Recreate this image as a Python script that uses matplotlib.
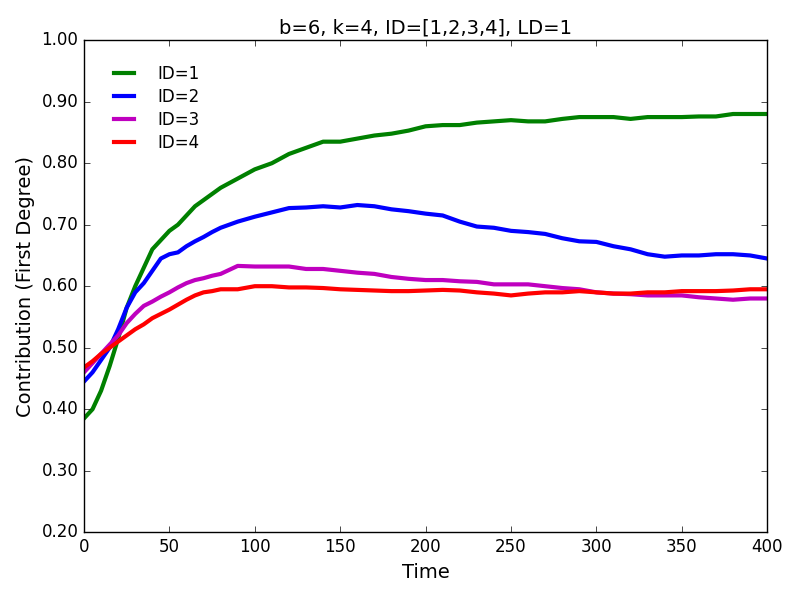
import numpy as np
import matplotlib
matplotlib.use('Agg')
import matplotlib.pyplot as plt
from matplotlib.ticker import FormatStrFormatter

plt.style.use('classic')

# time steps
time = [0, 5, 10, 15, 20, 25, 30, 35, 40, 45, 50, 55, 60, 65, 70, 75, 80,
        90, 100, 110, 120, 130, 140, 150, 160, 170, 180, 190, 200, 210, 220,
        230, 240, 250, 260, 270, 280, 290, 300, 310, 320, 330, 340, 350, 360,
        370, 380, 390, 400]

id1 = [0.385, 0.40, 0.43, 0.47, 0.515, 0.565, 0.60, 0.63, 0.66, 0.675, 0.69,
       0.70, 0.715, 0.73, 0.74, 0.75, 0.76,
       0.775, 0.79, 0.80, 0.815, 0.825, 0.835, 0.835, 0.84, 0.845, 0.848,
       0.853, 0.86, 0.862, 0.862, 0.866, 0.868, 0.87, 0.868, 0.868, 0.872,
       0.875, 0.875, 0.875, 0.872, 0.875, 0.875, 0.875, 0.876, 0.876, 0.88,
       0.88, 0.88]
id2 = [0.445, 0.46, 0.48, 0.50, 0.53, 0.565, 0.59, 0.605, 0.625, 0.645, 0.652,
       0.655, 0.665, 0.673, 0.68, 0.688, 0.695,
       0.705, 0.713, 0.72, 0.727, 0.728, 0.73, 0.728, 0.732, 0.73, 0.725,
       0.722, 0.718, 0.715, 0.705, 0.697, 0.695, 0.69, 0.688, 0.685, 0.678,
       0.673, 0.672, 0.665, 0.66, 0.652, 0.648, 0.65, 0.65, 0.652, 0.652,
       0.65, 0.645]
id3 = [0.46, 0.475, 0.49, 0.505, 0.52, 0.54, 0.555, 0.568, 0.575, 0.583, 0.59,
       0.598, 0.605, 0.61, 0.613, 0.617, 0.62,
       0.633, 0.632, 0.632, 0.632, 0.628, 0.628, 0.625, 0.622, 0.62, 0.615,
       0.612, 0.61, 0.61, 0.608, 0.607, 0.603, 0.603, 0.603, 0.6, 0.597,
       0.595, 0.59, 0.588, 0.587, 0.585, 0.585, 0.585, 0.582, 0.58, 0.578,
       0.58, 0.58]
id4 = [0.468, 0.478, 0.49, 0.50, 0.51, 0.52, 0.53, 0.538, 0.548, 0.555, 0.562,
       0.57, 0.578, 0.585, 0.59, 0.592, 0.595,
       0.595, 0.60, 0.60, 0.598, 0.598, 0.597, 0.595, 0.594, 0.593, 0.592,
       0.592, 0.593, 0.594, 0.593, 0.59, 0.588, 0.585, 0.588, 0.59, 0.59,
       0.592, 0.59, 0.588, 0.588, 0.59, 0.59, 0.592, 0.592, 0.592, 0.593,
       0.595, 0.595]

labels = ['ID=1', 'ID=2', 'ID=3', 'ID=4']
colors = ['g', 'b', 'm', 'r']

fig = plt.figure(figsize=(8, 6), dpi=100)
ax = fig.add_subplot(111)
fig.subplots_adjust(left=0.105, right=0.959, bottom=0.113, top=0.933)

for ys, lab, c in zip([id1, id2, id3, id4], labels, colors):
    ax.plot(time, ys, color=c, lw=3, label=lab)

ax.set_xlim(0, 400)
ax.set_ylim(0.2, 1.0)
ax.yaxis.set_major_formatter(FormatStrFormatter('%.2f'))
ax.set_xlabel('Time', fontsize=14)
ax.set_ylabel('Contribution (First Degree)', fontsize=14)
ax.set_title('b=6, k=4, ID=[1,2,3,4], LD=1', fontsize=14)
ax.legend(loc='upper left', frameon=False, fontsize=12, borderaxespad=1.1,
          labelspacing=0.3, handlelength=1.8, handletextpad=1.1)

fig.savefig('out.png', dpi=100)
